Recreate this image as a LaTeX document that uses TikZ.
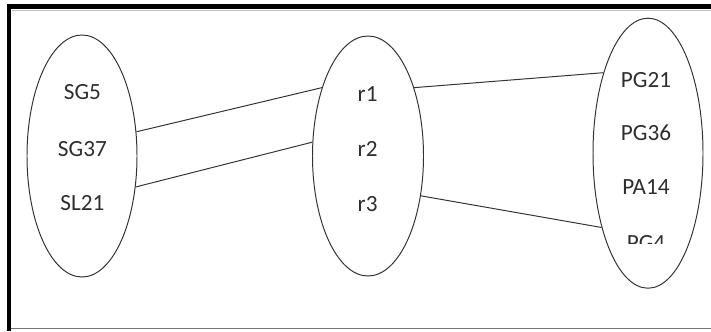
\documentclass[tikz,border=0pt]{standalone}
\usepackage{fontspec}
\setmainfont{Carlito}
\usepackage{tikz}
\usetikzlibrary{shapes.geometric}

\begin{document}
\begin{tikzpicture}[
  set/.style={ellipse, draw=black!80, line width=0.7pt, minimum width=2.75cm, inner sep=0pt},
  elem/.style={inner sep=0pt, text=black!82, font=\fontsize{16.5}{19}\selectfont},
  link/.style={draw=black!80, line width=0.7pt}
]
\useasboundingbox (0,0) rectangle (17.775,-8.275);
% frame: heavy top and left edge, thin bottom edge
\fill[black] (0.175,-0.1) rectangle (17.775,-0.215);
\fill[black] (0.175,-0.1) rectangle (0.27,-8.275);
\draw[black!25, line width=0.4pt] (0.29,-0.25) -- (17.775,-0.25);
\draw[black!55, line width=0.6pt] (0.27,-8.22) -- (17.775,-8.22);

% the three sets
\node[set, minimum height=6.05cm] (sg) at (2.05,-3.9) {};
\node[set, minimum height=6.0cm, minimum width=2.775cm] (rel) at (9.2,-3.9) {};
\node[set, minimum height=6.75cm] (pg) at (16.2,-3.83) {};

% elements
\node[elem] (sg5) at (2.06,-2.29) {SG5};
\node[elem] (sg37) at (2.06,-3.72) {SG37};
\node[elem] (sl21) at (2.06,-5.08) {SL21};

\node[elem] (r1) at (9.19,-2.35) {r1};
\node[elem] (r2) at (9.19,-3.72) {r2};
\node[elem] (r3) at (9.19,-5.09) {r3};

\node[elem] (pg21) at (16.15,-2.0) {PG21};
\node[elem] (pg36) at (16.15,-3.33) {PG36};
\node[elem] (pa14) at (16.15,-4.68) {PA14};
% last label is cut off in the picture
\begin{scope}
  \clip (15.2,-5.8) rectangle (17.2,-6.09);
  \node[elem, anchor=base] (pg4) at (16.15,-6.25) {PG4};
\end{scope}

% links between the sets
\draw[link] (sg.24) -- (rel.124);
\draw[link] (sg.-30) -- (rel.166);
\draw[link] (rel.56) -- (pg.119.5);
\draw[link] (rel.-37) -- (pg.-122);

\end{tikzpicture}
\end{document}
